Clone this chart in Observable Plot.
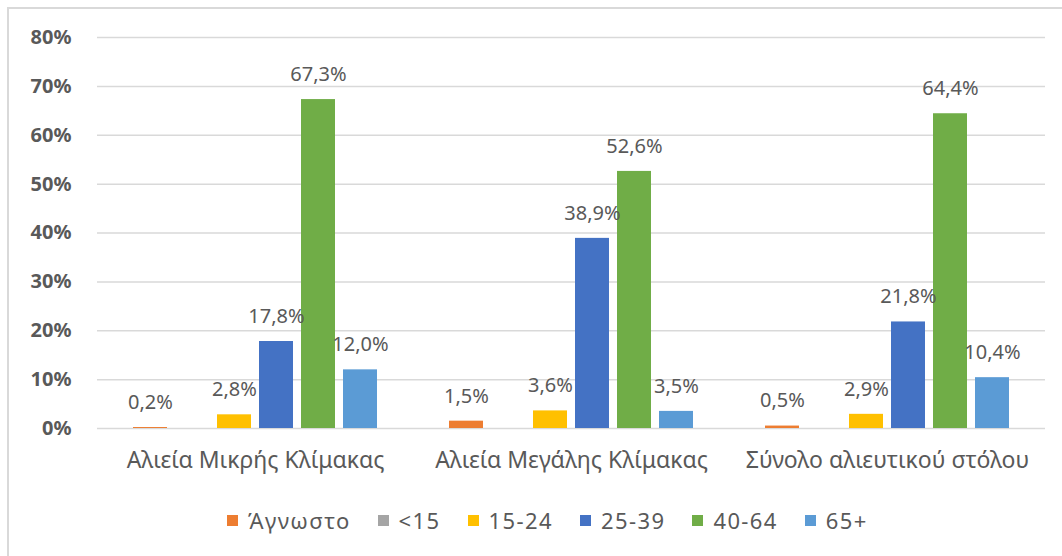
<!DOCTYPE html>
<html>
<head>
<meta charset="utf-8">
<script src="https://cdn.jsdelivr.net/npm/d3@7"></script>
<script src="https://cdn.jsdelivr.net/npm/@observablehq/plot@0.6"></script>
<style>
  html, body { margin: 0; padding: 0; background: #fff; }
  #wrap { position: relative; width: 1062px; height: 556px; overflow: hidden; font-family: "Noto Sans", "Open Sans", sans-serif; }
  #frame { position: absolute; left: 7px; top: 7px; width: 1100px; height: 600px; border-left: 2px solid #d9d9d9; border-top: 2px solid #d9d9d9; box-sizing: border-box; }
  #chart { position: absolute; left: 0; top: 0; }
  #legend { position: absolute; left: 227px; top: 505px; display: flex; align-items: center; font-size: 22px; letter-spacing: 1.4px; color: #595959; }
  #legend .item { display: flex; align-items: center; margin-right: 27px; }
  #legend .sw { width: 11px; height: 11px; margin-right: 10px; }
</style>
</head>
<body>
<div id="wrap">
  <div id="frame"></div>
  <div id="chart"></div>
  <div id="legend"></div>
</div>
<script>
const categories = ["Αλιεία Μικρής Κλίμακας", "Αλιεία Μεγάλης Κλίμακας", "Σύνολο αλιευτικού στόλου"];
const series = ["Άγνωστο", "<15", "15-24", "25-39", "40-64", "65+"];
const colors = ["#ED7D31", "#A5A5A5", "#FFC000", "#4472C4", "#70AD47", "#5B9BD5"];
// percentages per category, in series order
const smallScale = [0.2, 0, 2.8, 17.8, 67.3, 12.0];
const largeScale = [1.5, 0, 3.6, 38.9, 52.6, 3.5];
const totalFleet = [0.5, 0, 2.9, 21.8, 64.4, 10.4];
const yTicks = [0, 10, 20, 30, 40, 50, 60, 70, 80];

const valuesByCat = [smallScale, largeScale, totalFleet];
const data = [];
categories.forEach((c, i) => {
  series.forEach((s, j) => {
    data.push({category: c, series: s, value: valuesByCat[i][j]});
  });
});
const labelled = data.filter(d => d.value > 0);
const fmt = v => v.toFixed(1).replace(".", ",") + "%";

const chart = Plot.plot({
  width: 1062,
  height: 480,
  marginTop: 37,
  marginBottom: 52,
  marginLeft: 97,
  marginRight: 17,
  style: {fontFamily: '"Noto Sans", "Open Sans", sans-serif', color: "#595959", background: "transparent"},
  fx: {domain: categories, padding: 0, label: null},
  x: {domain: series, paddingInner: 0.2, paddingOuter: 0.85, axis: null},
  y: {domain: [0, 80], label: null},
  color: {domain: series, range: colors},
  marks: [
    Plot.ruleY(yTicks, {stroke: "#d9d9d9", strokeWidth: 1.5}),
    Plot.barY(data, {fx: "category", x: "series", y: "value", fill: "series"}),
    Plot.text(labelled, {fx: "category", x: "series", y: "value", text: d => fmt(d.value), dy: -25, fontSize: 20, fill: "#595959"}),
    Plot.axisY(yTicks, {tickSize: 0, tickPadding: 26, tickFormat: d => d + "%", fontSize: 20, fontWeight: "bold", fill: "#595959", label: null}),
    Plot.axisFx({anchor: "bottom", tickSize: 0, tickPadding: 23, fontSize: 23, fill: "#595959", label: null, style: {letterSpacing: "1.5px"}})
  ]
});
document.getElementById("chart").appendChild(chart);

const legend = document.getElementById("legend");
series.forEach((s, i) => {
  const item = document.createElement("div");
  item.className = "item";
  const sw = document.createElement("div");
  sw.className = "sw";
  sw.style.background = colors[i];
  const t = document.createElement("span");
  t.textContent = s;
  item.appendChild(sw);
  item.appendChild(t);
  legend.appendChild(item);
});
</script>
</body>
</html>
